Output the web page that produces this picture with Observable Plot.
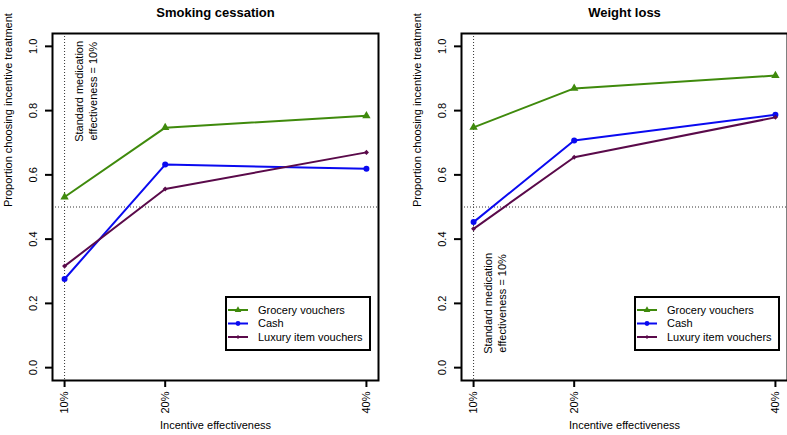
<!DOCTYPE html>
<html><head><meta charset="utf-8">
<script src="https://cdn.jsdelivr.net/npm/d3@7"></script>
<script src="https://cdn.jsdelivr.net/npm/@observablehq/plot@0.6"></script>
<style>
body{margin:0;background:#fff;}
#wrap{position:relative;width:787px;height:435px;overflow:hidden;font-family:"Liberation Sans",Arial,sans-serif;background:#fff;}
.panel{position:absolute;top:0;}
.legend{position:absolute;}
</style></head><body><div id="wrap"></div>
<script>
// ---- data ----
const panelTitles = ["Smoking cessation", "Weight loss"];
const incentiveLevels = [10, 20, 40];
const xTickLabels = ["10%", "20%", "40%"];
const yTicks = [0, 0.2, 0.4, 0.6, 0.8, 1.0];
const yTickLabels = ["0.0", "0.2", "0.4", "0.6", "0.8", "1.0"];
const seriesNames = ["Grocery vouchers", "Cash", "Luxury item vouchers"];
const seriesColors = ["#3f8a0c", "#0a0af0", "#5a0a4a"];

const smokingGrocery = [0.531, 0.747, 0.784];
const smokingCash    = [0.276, 0.632, 0.619];
const smokingLuxury  = [0.316, 0.556, 0.670];
const weightGrocery  = [0.748, 0.869, 0.909];
const weightCash     = [0.453, 0.707, 0.787];
const weightLuxury   = [0.432, 0.655, 0.779];

const referenceProportion = 0.5;
const standardMedication = 10;
const annotationText = "Standard medication\neffectiveness = 10%";
const annotationY = [0.86, 0.2];
const xTitle = "Incentive effectiveness";
const yTitle = "Proportion choosing incentive treatment";

const panelSeries = [
  [smokingGrocery, smokingCash, smokingLuxury],
  [weightGrocery, weightCash, weightLuxury]
];

// ---- styling ----
const symbolSpec = [
  {symbol: "triangle", r: 3.1, rotate: 0},
  {symbol: "circle", r: 3, rotate: 0},
  {symbol: "square", r: 2, rotate: 45}
];
const panelLeft = [0, 409];
const font = "Liberation Sans, Arial, Helvetica, sans-serif";
const wrap = document.getElementById("wrap");

panelTitles.forEach((title, p) => {
  const rows = [];
  panelSeries[p].forEach((vals, s) => {
    vals.forEach((v, i) => rows.push({series: seriesNames[s], x: incentiveLevels[i], y: v}));
  });
  const dotMarks = seriesNames.map((name, s) =>
    Plot.dot(rows.filter(d => d.series === name), {
      x: "x", y: "y", fill: seriesColors[s], stroke: "none",
      symbol: symbolSpec[s].symbol, r: symbolSpec[s].r, rotate: symbolSpec[s].rotate
    }));
  const chart = Plot.plot({
    width: 393, height: 435,
    marginTop: 33, marginBottom: 55, marginLeft: 52, marginRight: 15,
    x: {type: "linear", domain: [8.8, 41.2]},
    y: {domain: [-0.04, 1.04]},
    color: {domain: seriesNames, range: seriesColors},
    style: {fontFamily: font, fontSize: "11px", color: "#000", background: "#fff", overflow: "visible"},
    marks: [
      Plot.ruleY([referenceProportion], {stroke: "#333", strokeDasharray: "1,2", strokeWidth: 1}),
      Plot.ruleX([standardMedication], {stroke: "#333", strokeDasharray: "1,2", strokeWidth: 1}),
      Plot.line(rows, {x: "x", y: "y", z: "series", stroke: "series", strokeWidth: 2}),
      ...dotMarks,
      Plot.frame({stroke: "#000", strokeWidth: 2}),
      Plot.axisX({ticks: incentiveLevels, tickSize: 7, tickPadding: 4, tickRotate: -90,
        tickFormat: d => xTickLabels[incentiveLevels.indexOf(d)], label: null, strokeWidth: 2, fontSize: 11}),
      Plot.axisY({ticks: yTicks, tickSize: 7, tickFormat: () => "", label: null, strokeWidth: 2}),
      Plot.text(yTicks, {y: d => d, frameAnchor: "left", dx: -19, rotate: -90,
        text: d => yTickLabels[yTicks.indexOf(d)], textAnchor: "middle", fontSize: 11}),
      Plot.text([title], {frameAnchor: "top", dy: -26, fontWeight: "bold", fontSize: 13}),
      Plot.text([xTitle], {frameAnchor: "bottom", dy: 48, fontSize: 11}),
      Plot.text([yTitle], {frameAnchor: "left", dx: -44, rotate: -90, fontSize: 11}),
      Plot.text([annotationText], {x: standardMedication, y: annotationY[p], dx: 21, rotate: -90,
        lineHeight: 1.25, fontSize: 11})
    ]
  });
  chart.classList.add("panel");
  chart.style.left = panelLeft[p] + "px";
  wrap.appendChild(chart);

  // legend box
  const lg = d3.create("svg").attr("class", "legend")
    .attr("width", 146).attr("height", 55)
    .style("left", (panelLeft[p] + 225) + "px").style("top", "296px");
  lg.append("rect").attr("x", 1).attr("y", 1).attr("width", 144).attr("height", 53)
    .attr("fill", "#fff").attr("stroke", "#000").attr("stroke-width", 2);
  seriesNames.forEach((name, s) => {
    const cy = 14 + 13.5 * s;
    const g = lg.append("g");
    g.append("line").attr("x1", 3).attr("x2", 23).attr("y1", cy).attr("y2", cy)
      .attr("stroke", seriesColors[s]).attr("stroke-width", 2);
    const sym = symbolSpec[s].symbol === "triangle" ? d3.symbolTriangle
      : symbolSpec[s].symbol === "circle" ? d3.symbolCircle : d3.symbolSquare;
    const rr = symbolSpec[s].r * 0.8;
    g.append("path").attr("d", d3.symbol(sym, Math.PI * rr * rr)())
      .attr("transform", `translate(13,${cy}) rotate(${symbolSpec[s].rotate})`)
      .attr("fill", seriesColors[s]);
    g.append("text").attr("x", 33).attr("y", cy).attr("dy", "0.35em")
      .attr("font-family", font).attr("font-size", 11).attr("fill", "#000").text(name);
  });
  wrap.appendChild(lg.node());
});
</script>
</body></html>
